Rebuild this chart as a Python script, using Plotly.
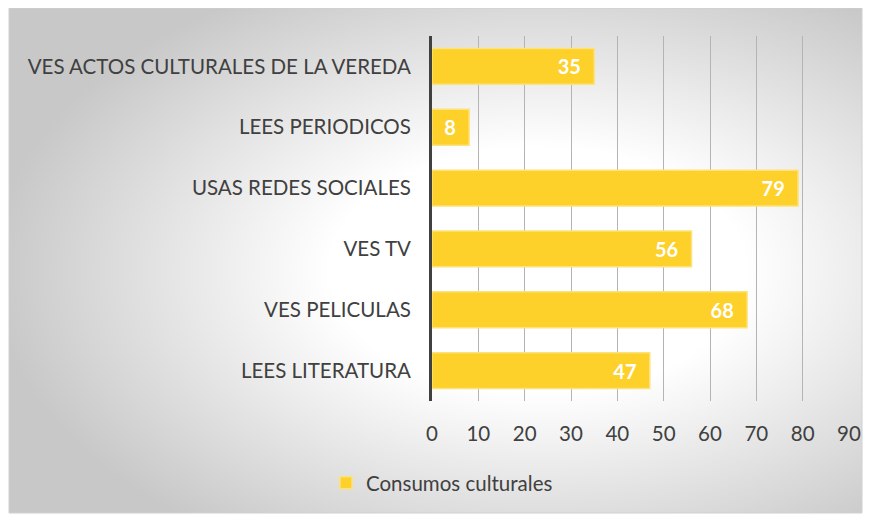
import base64
import plotly.graph_objects as go

categories = ["LEES LITERATURA", "VES PELICULAS", "VES TV", "USAS REDES SOCIALES",
              "LEES PERIODICOS", "VES ACTOS CULTURALES DE LA VEREDA"]
values = [47, 68, 56, 79, 8, 35]
series_name = "Consumos culturales"
x_ticks = [0, 10, 20, 30, 40, 50, 60, 70, 80, 90]

OFF = 8  # page body margin
W, H = 879 - OFF, 517 - OFF
# screen coordinates of the plot area
L, R, T, B = 432, 849, 36, 401
pw, ph = R - L, B - T

svg = ('<svg xmlns="http://www.w3.org/2000/svg" width="853" height="505" viewBox="0 0 853 505" preserveAspectRatio="none">'
       '<defs><radialGradient id="g" cx="0.62" cy="0.52" r="0.64">'
       '<stop offset="0" stop-color="#ffffff"/><stop offset="0.38" stop-color="#ffffff"/>'
       '<stop offset="1" stop-color="#c8c8c8"/></radialGradient></defs>'
       '<rect width="853" height="505" fill="url(#g)"/></svg>')
src = "data:image/svg+xml;base64," + base64.b64encode(svg.encode()).decode()

def px2x(p):
    return (p - L) / pw

def py2y(p):
    return (B - p) / ph

FONT = "Lato"
fig = go.Figure()
fig.add_trace(go.Bar(
    y=categories, x=values, orientation="h", name=series_name,
    marker=dict(color="#FDD02A", line=dict(color="#FCE27A", width=1.5)),
    texttemplate="<b>%{x}</b>\u00a0\u00a0", textposition="inside", insidetextanchor="end",
    textfont=dict(color="white", size=20, family=FONT),
    showlegend=True,
))

fig.update_layout(
    width=W, height=H,
    margin=dict(l=L - OFF, r=879 - R, t=T - OFF, b=517 - B, pad=0),
    paper_bgcolor="white", plot_bgcolor="rgba(0,0,0,0)",
    bargap=0.41,
    font=dict(family=FONT, color="#404040", size=20.5),
    xaxis=dict(range=[0, 90], tickvals=x_ticks, showgrid=True, gridcolor="#b4b4b4", gridwidth=1,
               zeroline=False, showline=False, ticks="", ticklabelstandoff=18,
               tickfont=dict(size=20.5, color="#404040"), fixedrange=True),
    yaxis=dict(showgrid=False, zeroline=False, showline=True, linecolor="#404040", linewidth=3,
               ticks="", ticklabelstandoff=14, tickfont=dict(size=20.5, color="#404040")),
    legend=dict(orientation="h", x=px2x(442), xanchor="center", y=py2y(483), yanchor="middle",
                itemwidth=30, font=dict(size=20.5, color="#404040"), bgcolor="rgba(0,0,0,0)"),
    images=[dict(source=src, xref="paper", yref="paper", x=px2x(9), y=py2y(8),
                 sizex=853 / pw, sizey=505 / ph, sizing="stretch", layer="below",
                 xanchor="left", yanchor="top")],
    shapes=[dict(type="rect", xref="paper", yref="paper", x0=px2x(9), x1=px2x(862),
                 y0=py2y(513), y1=py2y(8), line=dict(color="#d0d0d0", width=1), layer="below")],
)

fig.write_html("out.html")
